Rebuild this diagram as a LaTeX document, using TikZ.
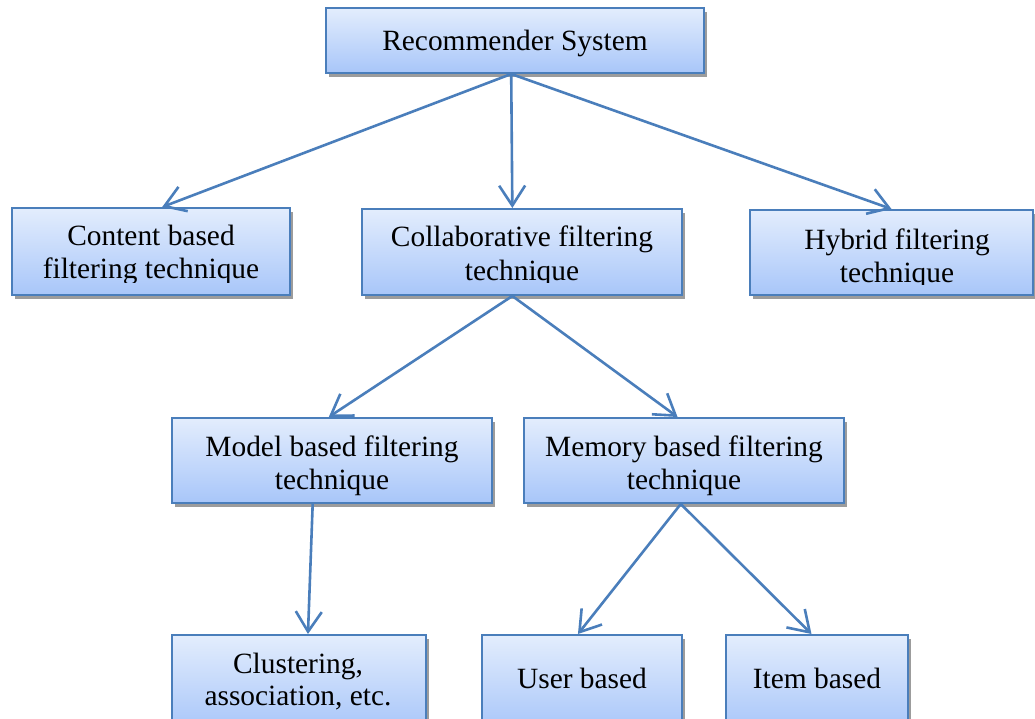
\documentclass[tikz,border=0pt]{standalone}
\usepackage{fontspec}
\setmainfont{Liberation Serif}
\usetikzlibrary{arrows.meta,shadows,calc}

\definecolor{edge}{HTML}{4A7EBB}
\definecolor{boxtop}{HTML}{E3EDFD}
\definecolor{boxbot}{HTML}{A8C6F9}
\definecolor{shade}{HTML}{9C9C9C}

\tikzset{
  block/.style={draw=edge, line width=2pt, top color=boxtop, bottom color=boxbot,
    inner sep=0pt,
    general shadow={fill=shade, shadow xshift=3pt, shadow yshift=-4pt}},
  txt/.style={anchor=base, inner sep=0pt, font=\fontsize{29.4}{33}\selectfont},
  link/.style={draw=edge, line width=2.6pt,
    -{Straight Barb[length=20pt,width=26pt]}}
}

\begin{document}
\begin{tikzpicture}[x=1pt,y=-1pt]
\useasboundingbox (0,0) rectangle (1035,719);
\clip (0,0) rectangle (1035,719);

% boxes
\node[block, minimum width=378pt, minimum height=65pt] (rs)  at (515,40.5)  {};
\node[block, minimum width=278pt, minimum height=87pt] (cb)  at (151,251.5) {};
\node[block, minimum width=320pt, minimum height=86pt] (cf)  at (522,252)   {};
\node[block, minimum width=283pt, minimum height=85pt] (hf)  at (891.5,252.5) {};
\node[block, minimum width=320pt, minimum height=85pt] (mb)  at (332,460.5) {};
\node[block, minimum width=320pt, minimum height=85pt] (mem) at (684,460.5) {};
\node[block, minimum width=254pt, minimum height=95pt] (cl)  at (299,682.5) {};
\node[block, minimum width=200pt, minimum height=95pt] (ub)  at (582,682.5) {};
\node[block, minimum width=182pt, minimum height=95pt] (ib)  at (817,682.5) {};

% labels
\node[txt] (rs-t) at (515,51) {Recommender System};

\begin{scope}
  \clip (12,208) rectangle (290,282);
  \node[txt] (cb-t1) at (151,245) {Content based};
  \node[txt] (cb-t2) at (151,278) {filtering technique};
\end{scope}
\begin{scope}
  \clip (362,209) rectangle (682,282);
  \node[txt] (cf-t1) at (522,247) {Collaborative filtering};
  \node[txt] (cf-t2) at (522,280) {technique};
\end{scope}
\begin{scope}
  \clip (750,210) rectangle (1033,284);
  \node[txt] (hf-t1) at (897,250) {Hybrid filtering};
  \node[txt] (hf-t2) at (897,282) {technique};
\end{scope}

\node[txt] (mb-t1)  at (332,456) {Model based filtering};
\node[txt] (mb-t2)  at (332,489) {technique};
\node[txt] (mem-t1) at (684,456) {Memory based filtering};
\node[txt] (mem-t2) at (684,489) {technique};
\node[txt] (cl-t1)  at (298,673) {Clustering,};
\node[txt] (cl-t2)  at (298,705) {association, etc.};
\node[txt] (ub-t)   at (582,688) {User based};
\node[txt] (ib-t)   at (817,688) {Item based};

% connectors
\coordinate (rs-out) at ($(rs.south west)!0.49!(rs.south east)$);
\draw[link] (rs-out) -- ($(cb.north west)!0.54!(cb.north east)$);
\draw[link] (rs-out) -- ($(cf.north west)!0.47!(cf.north east)$);
\draw[link] (rs-out) -- (hf.north);

\coordinate (cf-out) at ($(cf.south west)!0.47!(cf.south east)$);
\draw[link] (cf-out) -- ($(mb.north west)!0.49!(mb.north east)$);
\draw[link] (cf-out) -- ($(mem.north west)!0.48!(mem.north east)$);

\draw[link] ($(mb.south west)!0.44!(mb.south east)$) -- ($(cl.north west)!0.535!(cl.north east)$);

\coordinate (mem-out) at ($(mem.south west)!0.49!(mem.south east)$);
\draw[link] (mem-out) -- ($(ub.north west)!0.48!(ub.north east)$);
\draw[link] (mem-out) -- ($(ib.north west)!0.47!(ib.north east)$);
\end{tikzpicture}
\end{document}
